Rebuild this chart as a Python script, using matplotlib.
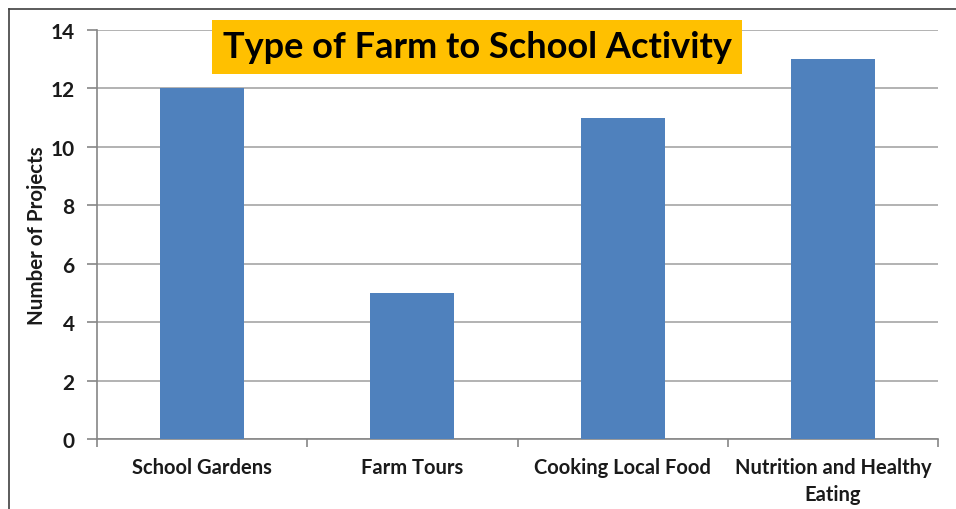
import matplotlib
matplotlib.use("Agg")
import matplotlib.pyplot as plt
from matplotlib.lines import Line2D
import numpy as np

categories = ["School Gardens", "Farm Tours", "Cooking Local Food", "Nutrition and Healthy\nEating"]
values = [12, 5, 11, 13]
yticks = [0, 2, 4, 6, 8, 10, 12, 14]
title = "Type of Farm to School Activity"
ylabel = "Number of Projects"

plt.rcParams['font.family'] = ['Lato', 'DejaVu Sans']

fig = plt.figure(figsize=(9.56, 5.10), dpi=100)
W, H = 956, 510
ax = fig.add_axes([97 / W, 1 - 440 / H, (938 - 97) / W, (440 - 31) / H])

x = np.arange(len(categories))
ax.bar(x, values, width=0.4, color="#4F81BD", zorder=3)
ax.set_xlim(-0.5, len(categories) - 0.5)
ax.set_ylim(0, 14)
ax.set_yticks(yticks)
ax.yaxis.grid(True, color="#A6A6A6", linewidth=1.2, zorder=0)
ax.set_axisbelow(True)

ax.set_xticks(x)
ax.set_xticklabels(categories, fontsize=14.5, fontweight="bold", color="#1a1a1a", linespacing=1.45)
ax.set_xticks(np.arange(len(categories) + 1) - 0.5, minor=True)
ax.tick_params(axis="x", which="major", length=0, pad=13)
ax.tick_params(axis="x", which="minor", length=6, color="#868686", width=1.2)
ax.tick_params(axis="y", length=7, color="#868686", width=1.2, labelsize=15, pad=9)
for lab in ax.get_yticklabels():
    lab.set_fontweight("bold")
    lab.set_color("#1a1a1a")

for s in ["top", "right"]:
    ax.spines[s].set_visible(False)
for s in ["left", "bottom"]:
    ax.spines[s].set_color("#868686")
    ax.spines[s].set_linewidth(1.2)

ax.set_ylabel(ylabel, fontsize=14.8, fontweight="bold", color="#1a1a1a", va="center")
ax.yaxis.set_label_coords((37 - 97) / 841, 0.5)

fig.text(477 / W, 1 - 48 / H, title, ha="center", va="center", fontsize=26,
         fontweight="bold", color="black",
         bbox=dict(boxstyle="square,pad=0.3", facecolor="#FFC000", edgecolor="none"))

# outer border
fig.add_artist(Line2D([8.5 / W, 1], [1 - 9.5 / H, 1 - 9.5 / H], color="#404040", linewidth=1.2, transform=fig.transFigure))
fig.add_artist(Line2D([8.5 / W, 8.5 / W], [0, 1 - 9.5 / H], color="#404040", linewidth=1.2, transform=fig.transFigure))

fig.savefig("out.png", dpi=100, facecolor="white")
